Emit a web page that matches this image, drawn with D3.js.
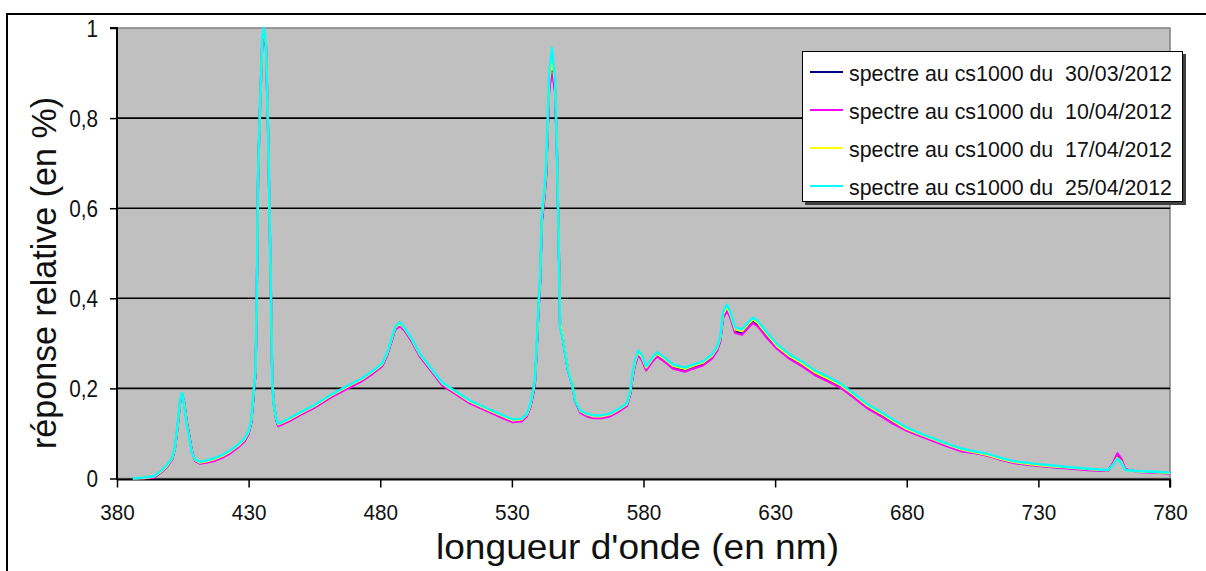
<!DOCTYPE html>
<html><head><meta charset="utf-8">
<script src="https://cdn.jsdelivr.net/npm/d3@7"></script>
<style>html,body{margin:0;padding:0;background:#fff;overflow:hidden}text{font-family:"Liberation Sans",Arial,sans-serif}</style>
</head><body><svg id="c" width="1206" height="571"></svg>
<script>
const wavelengths = [386,390,394,397,399,401,402,403,404,404.7,405.5,406.5,407.5,408.5,409.7,411.5,414,417,420,423,426,428.5,430,431,432,432.6,433,433.6,434.3,435.2,435.8,436.6,437.4,438.5,439,439.5,440.4,441.2,445,450,455,461,468,473,477,480.7,482.5,484.5,485.6,487.5,489.4,492,495,499,503.5,507.6,514,520.5,526.6,530.4,533.8,535.7,537,538.2,538.8,539.5,540,540.7,541.4,542.2,543,543.7,544.2,545.2,545.7,546.4,547.1,547.9,548.3,549.4,550.2,551.3,552.8,554,556,558.5,561,564,567.3,571,573.7,575,576,576.8,578,579.4,581,583.2,585.1,587.4,591.2,595.8,598.8,602.6,606,608,609.2,610.2,611.7,612.9,614.8,617.4,619.7,621.6,623.5,626.9,630.7,635.6,640.6,645,650,655,660,665,670,675,680,686,691,696,701,706,711,716,721,728,735,742,750,756.5,758.5,760,761.5,763,768,774,780];

const s_30_03 = [0,.001,.003,.015,.027,.044,.067,.114,.172,.188,.168,.124,.092,.058,.040,.034,.036,.041,.048,.058,.071,.085,.101,.126,.192,.232,.355,.678,.818,.972,.990,.960,.768,.402,.212,.168,.134,.118,.128,.144,.159,.181,.203,.218,.234,.251,.273,.310,.332,.341,.329,.306,.273,.243,.209,.193,.169,.152,.136,.127,.129,.140,.160,.193,.218,.296,.362,.435,.575,.618,.674,.790,.875,.905,.895,.865,.735,.495,.342,.310,.280,.242,.212,.174,.148,.140,.136,.136,.140,.152,.163,.190,.232,.255,.277,.266,.243,.261,.274,.265,.247,.240,.247,.254,.269,.287,.308,.360,.377,.362,.327,.323,.338,.349,.341,.316,.291,.268,.251,.233,.219,.204,.182,.159,.142,.124,.108,.094,.083,.072,.062,.057,.051,.042,.035,.030,.026,.023,.019,.018,.034,.050,.040,.020,.015,.014,.012];
const s_10_04 = [0,.000,.002,.014,.026,.043,.066,.113,.170,.187,.170,.126,.094,.060,.039,.033,.035,.039,.046,.056,.069,.083,.099,.124,.190,.230,.350,.670,.812,.970,.985,.962,.772,.408,.216,.170,.133,.116,.126,.142,.157,.179,.201,.216,.232,.249,.271,.308,.330,.338,.327,.304,.271,.241,.207,.191,.167,.150,.134,.125,.127,.138,.158,.190,.215,.292,.358,.430,.570,.612,.668,.782,.865,.900,.890,.858,.730,.490,.340,.308,.278,.240,.210,.172,.146,.138,.134,.134,.138,.150,.161,.188,.229,.252,.274,.263,.240,.258,.271,.262,.244,.237,.244,.251,.266,.284,.305,.356,.373,.358,.323,.319,.334,.345,.337,.312,.288,.265,.248,.230,.216,.201,.179,.156,.139,.121,.106,.092,.081,.070,.060,.056,.050,.041,.034,.029,.025,.022,.018,.017,.036,.056,.044,.021,.014,.013,.011];
const s_17_04 = [0,.001,.004,.016,.028,.045,.068,.116,.174,.189,.167,.122,.090,.057,.041,.035,.038,.043,.050,.060,.073,.087,.103,.128,.196,.236,.360,.675,.815,.975,.995,.965,.770,.405,.214,.168,.135,.120,.130,.146,.161,.183,.205,.220,.236,.253,.275,.312,.334,.344,.331,.308,.275,.245,.211,.195,.171,.154,.138,.129,.131,.142,.162,.196,.221,.300,.366,.440,.580,.624,.680,.798,.885,.925,.910,.880,.740,.500,.345,.312,.282,.244,.214,.176,.150,.142,.138,.138,.142,.154,.165,.192,.235,.258,.280,.269,.246,.264,.277,.268,.250,.243,.250,.257,.272,.290,.311,.364,.381,.366,.331,.327,.342,.353,.345,.320,.294,.271,.254,.236,.222,.207,.185,.162,.145,.127,.110,.096,.085,.074,.064,.058,.052,.043,.036,.031,.027,.024,.020,.018,.032,.046,.037,.019,.015,.014,.012];
const s_25_04 = [0,.002,.005,.018,.030,.047,.070,.118,.175,.190,.165,.120,.088,.056,.042,.037,.040,.045,.052,.062,.075,.089,.105,.130,.200,.240,.366,.678,.818,.980,1.000,.962,.766,.400,.210,.166,.136,.122,.132,.148,.163,.185,.207,.222,.238,.255,.277,.314,.336,.347,.333,.310,.277,.247,.213,.197,.173,.156,.140,.131,.133,.144,.165,.200,.225,.307,.373,.447,.589,.633,.691,.811,.900,.956,.924,.891,.722,.484,.336,.307,.278,.240,.211,.173,.151,.144,.140,.140,.144,.156,.167,.196,.240,.262,.284,.273,.249,.267,.280,.271,.253,.246,.253,.260,.275,.293,.315,.369,.386,.371,.335,.331,.346,.357,.349,.324,.298,.275,.258,.240,.226,.210,.188,.165,.148,.130,.113,.098,.087,.076,.066,.060,.054,.045,.038,.033,.029,.025,.021,.019,.030,.044,.035,.019,.016,.015,.013];

const seriesNames = ["spectre au cs1000 du  30/03/2012","spectre au cs1000 du  10/04/2012","spectre au cs1000 du  17/04/2012","spectre au cs1000 du  25/04/2012"];
const seriesColors = ["#000080","#ff00ff","#ffff00","#00ffff"];
const xTicks = [380,430,480,530,580,630,680,730,780];
const yTicks = [0,0.2,0.4,0.6,0.8,1];
const yTickLabels = ["0","0,2","0,4","0,6","0,8","1"];
const xTitle = "longueur d'onde (en nm)";
const yTitle = "réponse relative (en %)";

const svg = d3.select("#c");
const L = 117, R = 1170, T = 28, B = 478.5;
const x = d3.scaleLinear().domain([380,780]).range([L,R]);
const y = d3.scaleLinear().domain([0,1]).range([B,T]);

// outer frame
svg.append("rect").attr("x",7).attr("y",14).attr("width",1220).attr("height",600)
  .attr("fill","#fff").attr("stroke","#000").attr("stroke-width",2);

// plot area
svg.append("rect").attr("x",L).attr("y",T).attr("width",R-L).attr("height",B-T)
  .attr("fill","#c0c0c0").attr("stroke","#808080").attr("stroke-width",1.5);

// gridlines
svg.append("g").selectAll("line").data(yTicks.filter(d=>d>0&&d<1)).join("line")
  .attr("x1",L).attr("x2",R).attr("y1",d=>y(d)).attr("y2",d=>y(d))
  .attr("stroke","#000").attr("stroke-width",1.6);

// axes
const yAxis = d3.axisLeft(y).tickValues(yTicks).tickSize(7).tickPadding(12)
  .tickFormat((d,i)=>yTickLabels[i]);
const gy = svg.append("g").attr("transform",`translate(${L},0)`).call(yAxis);
const xAxis = d3.axisBottom(x).tickValues(xTicks).tickSize(8).tickPadding(17).tickFormat(d3.format("d"));
const gx = svg.append("g").attr("transform",`translate(0,${B+1})`).call(xAxis);
[gx,gy].forEach(g=>{
  g.select(".domain").attr("stroke","#000").attr("stroke-width",2);
  g.selectAll(".tick line").attr("stroke","#000").attr("stroke-width",1.5);
  g.selectAll(".tick text").attr("fill","#111").style("font-size","22px");
});
gy.selectAll(".tick text").style("font-size","23px");
gy.select(".domain").attr("d",`M-7,${T}H0V${B+1}`);
gx.select(".domain").attr("d",`M${L},0H${R}V8`);
function squeeze(sel,f){ sel.each(function(){ const w=this.getComputedTextLength(); d3.select(this).attr("textLength",w*f).attr("lengthAdjust","spacingAndGlyphs");}); }
squeeze(gx.selectAll(".tick text"),0.94);
squeeze(gy.selectAll(".tick text"),0.9);
gy.selectAll(".tick text").attr("dy","0.36em");

// series
const data = [s_30_03,s_10_04,s_17_04,s_25_04];
const line = d3.line().x((d,i)=>x(wavelengths[i])).y(d=>y(d));
svg.append("g").selectAll("path").data(data).join("path")
  .attr("d",line).attr("fill","none")
  .attr("stroke",(d,i)=>seriesColors[i]).attr("stroke-width",(d,i)=>i===3?2.4:2.2)
  .attr("stroke-linejoin","round");

// legend
const lg = svg.append("g");
lg.append("rect").attr("x",805).attr("y",54).attr("width",381).attr("height",151).attr("fill","#404040");
lg.append("rect").attr("x",802.5).attr("y",51.5).attr("width",380).attr("height",150).attr("fill","#fff").attr("stroke","#000").attr("stroke-width",1);
const rows = lg.selectAll("g.row").data(seriesNames).join("g").attr("class","row")
  .attr("transform",(d,i)=>`translate(0,${72+i*38})`);
rows.append("line").attr("x1",810).attr("x2",843).attr("stroke",(d,i)=>seriesColors[i]).attr("stroke-width",2);
const lt = rows.append("text").attr("x",849).attr("y",8.5).attr("fill","#111")
  .attr("xml:space","preserve").style("white-space","pre").style("font-size","22px").text(d=>d);
lt.attr("textLength",323).attr("lengthAdjust","spacingAndGlyphs");

// titles
svg.append("text").attr("x",436).attr("y",559).attr("fill","#111").style("font-size","35px")
  .attr("textLength",403).attr("lengthAdjust","spacingAndGlyphs").text(xTitle);
svg.append("text").attr("transform","translate(56,449) rotate(-90)").attr("fill","#111").style("font-size","35px")
  .attr("textLength",352).attr("lengthAdjust","spacingAndGlyphs").text(yTitle);
</script></body></html>
